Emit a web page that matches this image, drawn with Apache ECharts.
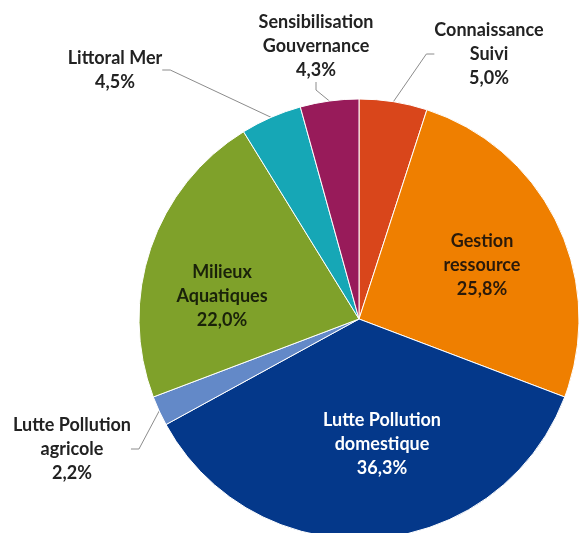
<!DOCTYPE html>
<html>
<head>
<meta charset="utf-8">
<script src="https://cdn.jsdelivr.net/npm/echarts@6/dist/echarts.min.js"></script>
<style>
html,body{margin:0;padding:0;background:#fff;}
#chart{width:579px;height:533px;}
</style>
</head>
<body>
<div id="chart"></div>
<script>
// Data (clockwise from 12 o'clock)
const categories = [
  'Connaissance\nSuivi',
  'Gestion\nressource',
  'Lutte Pollution\ndomestique',
  'Lutte Pollution\nagricole',
  'Milieux\nAquatiques',
  'Littoral Mer',
  'Sensibilisation\nGouvernance'
];
const values = [5.0, 25.8, 36.3, 2.2, 22.0, 4.5, 4.3];

// Styling (separate from data)
const colors = ['#D9461B', '#EF7F00', '#04388A', '#6389C8', '#7FA12A', '#16A7B6', '#981B5A'];
const insideIdx = [1, 2, 4];
const labelColors = ['#222222', '#2a1a0a', '#ffffff', '#222222', '#1a220a', '#222222', '#222222'];
const labelAnchor = {
  0: [489, 54],
  1: [482, 265],
  2: [382, 444],
  3: [72, 449],
  4: [222, 296],
  5: [115, 70],
  6: [316, 46]
};

const fmt = v => v.toFixed(1).replace('.', ',') + '%';

const seriesData = categories.map((name, i) => ({
  name: name,
  value: values[i],
  itemStyle: { color: colors[i] },
  label: {
    position: insideIdx.includes(i) ? 'inside' : 'outside',
    color: labelColors[i]
  },
  labelLine: { show: !insideIdx.includes(i) }
}));

const chart = echarts.init(document.getElementById('chart'), null, { renderer: 'canvas' });
chart.setOption({
  backgroundColor: '#ffffff',
  animation: false,
  series: [{
    type: 'pie',
    center: [359, 319],
    radius: 220,
    startAngle: 90,
    clockwise: true,
    avoidLabelOverlap: false,
    data: seriesData,
    itemStyle: { borderColor: '#ffffff', borderWidth: 1 },
    label: {
      show: true,
      formatter: p => p.name + '\n' + fmt(p.value),
      fontFamily: 'Lato',
      fontWeight: 'bold',
      fontSize: 18,
      lineHeight: 24,
      align: 'center'
    },
    labelLine: {
      show: true,
      length: 12,
      length2: 8,
      lineStyle: { color: '#8c8c8c', width: 1 }
    },
    labelLayout: function (params) {
      const a = labelAnchor[params.dataIndex];
      return { x: a[0], y: a[1], align: 'center', verticalAlign: 'middle' };
    }
  }]
});
</script>
</body>
</html>
